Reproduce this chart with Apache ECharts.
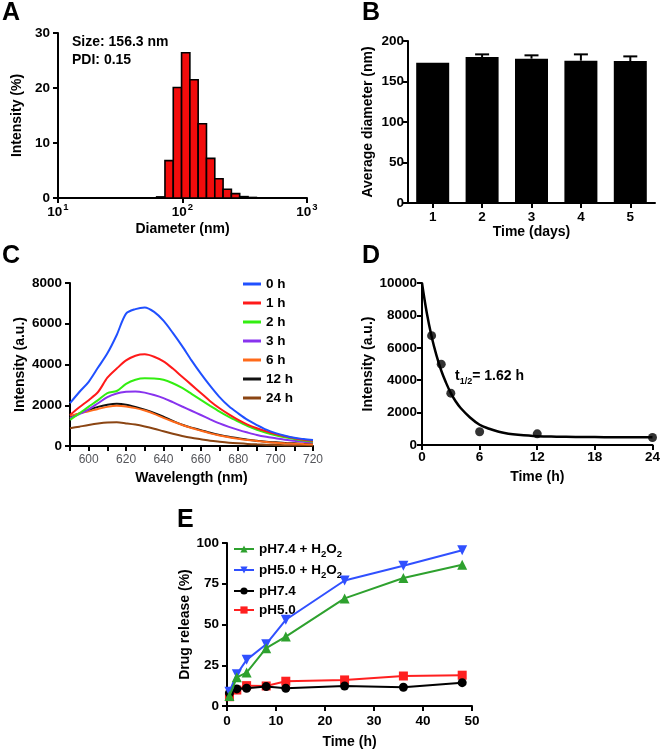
<!DOCTYPE html>
<html><head><meta charset="utf-8">
<script src="https://cdn.jsdelivr.net/npm/echarts@6/dist/echarts.min.js"></script>
<style>html,body{margin:0;padding:0;background:#fff}#c{width:663px;height:753px}</style>
</head><body><div id="c"></div>
<script>
// ---------- Panel A: size distribution (log bins) ----------
const binEdgesNm = [62.0, 72.3, 84.3, 98.3, 114.6, 133.6, 155.8, 181.7, 211.8, 247.0, 288.0, 336.0, 392.0];
const binIntensity = [0.2, 6.8, 20.1, 26.4, 21.5, 13.5, 7.2, 3.5, 1.6, 0.8, 0.25, 0.1];
// ---------- Panel B: stability ----------
const daysCats = ['1', '2', '3', '4', '5'];
const avgDiameter = [173.3, 180.2, 178.2, 175.7, 175.3];
const diameterErr = [0, 3.3, 4.1, 7.8, 5.7];
// ---------- Panel C: emission spectra ----------
const wavelength = [590,595,600,605,610,615,620,625,630,635,640,645,650,655,660,665,670,675,680,685,690,695,700,705,710,715,720];
const spec0h  = [2100,2650,3150,3850,4550,5450,6500,6720,6800,6580,6150,5550,4900,4200,3550,2950,2400,1950,1600,1280,1030,800,630,500,400,340,290];
const spec1h  = [1520,1900,2250,2650,3350,3800,4200,4430,4500,4380,4150,3800,3400,3000,2600,2200,1850,1550,1280,1050,870,720,590,480,380,310,260];
const spec2h  = [1280,1600,1930,2250,2600,2700,3050,3250,3320,3310,3250,3080,2850,2560,2260,1970,1690,1430,1200,980,800,650,530,430,340,270,210];
const spec3h  = [1360,1560,1800,2100,2400,2580,2660,2680,2620,2500,2350,2150,1940,1730,1520,1310,1110,940,790,660,540,450,380,310,260,210,180];
const spec6h  = [1480,1600,1700,1820,1920,1970,1940,1860,1740,1580,1380,1200,1030,880,750,620,520,430,360,300,250,200,160,135,115,95,80];
const spec12h = [1440,1600,1770,1920,2020,2070,2030,1920,1780,1620,1440,1230,1040,900,780,650,540,450,380,310,260,210,180,150,130,110,100];
const spec24h = [870,950,1030,1100,1150,1160,1110,1050,960,850,720,600,490,400,330,260,210,165,130,100,80,65,50,42,36,32,30];
const specNames = ['0 h','1 h','2 h','3 h','6 h','12 h','24 h'];
// ---------- Panel D: decay ----------
const decayT = [1, 2, 3, 6, 12, 24];
const decayI = [6750, 4990, 3200, 820, 690, 460];
const fitT = [0,0.5,1,1.5,2,2.5,3,3.5,4,5,6,7,8,9,10,12,14,16,18,20,22,24];
const fitI = [10000,8150,6700,5550,4600,3850,3200,2700,2300,1700,1250,1000,820,700,630,545,515,500,490,482,478,475];
// ---------- Panel E: drug release ----------
const releaseT = [0.5, 2, 4, 8, 12, 24, 36, 48];
const relPH74H2O2 = [6.1, 17.6, 20.5, 35.5, 42.6, 66.0, 78.5, 86.7];
const relPH50H2O2 = [8.8, 19.5, 28.3, 37.9, 52.9, 77.0, 86.0, 95.5];
const relPH74 = [8.0, 10.5, 10.9, 11.9, 10.9, 12.3, 11.5, 14.3];
const relPH50 = [5.7, 9.8, 12.5, 12.3, 15.2, 16.0, 18.4, 18.9];
const releaseNames = ['pH7.4 + H2O2', 'pH5.0 + H2O2', 'pH7.4', 'pH5.0'];

const FF = '"Liberation Sans", Arial, Helvetica, sans-serif';
const pair = (xs, ys) => xs.map((x, i) => [x, ys[i]]);
const plain = v => String(v);

function ax(o) {
  const margin = o.margin == null ? 8 : o.margin;
  const base = {
    axisLine: {show: true, onZero: false, lineStyle: {color: '#000', width: 2}},
    axisTick: {show: true, length: 5, lineStyle: {color: '#000', width: 2}},
    axisLabel: {color: '#000', fontFamily: FF, fontWeight: 'bold', fontSize: 13.5, margin: margin, formatter: plain},
    splitLine: {show: false},
    nameLocation: 'middle',
    nameTextStyle: {color: '#000', fontFamily: FF, fontWeight: 'bold', fontSize: 14},
  };
  const r = Object.assign(base, o);
  delete r.margin;
  if (o.axisLabel) r.axisLabel = Object.assign(base.axisLabel, o.axisLabel, {margin: margin});
  if (o.axisTick) r.axisTick = Object.assign({show: true, length: 5, lineStyle: {color: '#000', width: 2}}, o.axisTick);
  return r;
}

const chart = echarts.init(document.getElementById('c'), null, {renderer: 'canvas'});
const specColors = ['#2050ff', '#ff1a1a', '#33ee11', '#8833ee', '#ff6a1a', '#111111', '#8b4513'];
const specData = [spec0h, spec1h, spec2h, spec3h, spec6h, spec12h, spec24h];

const series = [];
// A
series.push({
  type: 'custom', xAxisIndex: 0, yAxisIndex: 0,
  data: binIntensity.map((v, i) => [binEdgesNm[i], binEdgesNm[i + 1], v]),
  encode: {x: [0, 1], y: 2},
  renderItem: function (params, api) {
    const p0 = api.coord([api.value(0), api.value(2)]);
    const p1 = api.coord([api.value(1), 0]);
    return {type: 'rect', shape: {x: p0[0], y: p0[1], width: p1[0] - p0[0], height: p1[1] - p0[1]},
      style: {fill: '#f20c0c', stroke: '#000', lineWidth: 1.6}};
  }
});
// B
series.push({type: 'bar', xAxisIndex: 1, yAxisIndex: 1, data: avgDiameter, barWidth: 33,
  itemStyle: {color: '#000'}, z: 2});
series.push({
  type: 'custom', xAxisIndex: 1, yAxisIndex: 1, z: 3,
  data: avgDiameter.map((v, i) => [i, v, v + diameterErr[i]]),
  encode: {x: 0, y: [1, 2]},
  renderItem: function (params, api) {
    if (api.value(2) - api.value(1) <= 0) return;
    const top = api.coord([api.value(0), api.value(2)]);
    const base = api.coord([api.value(0), api.value(1)]);
    const st = {stroke: '#000', lineWidth: 2};
    return {type: 'group', children: [
      {type: 'line', shape: {x1: top[0], y1: base[1], x2: top[0], y2: top[1]}, style: st},
      {type: 'line', shape: {x1: top[0] - 7, y1: top[1], x2: top[0] + 7, y2: top[1]}, style: st}
    ]};
  }
});
// C
specNames.forEach((n, i) => {
  series.push({type: 'line', name: n, xAxisIndex: 2, yAxisIndex: 2, data: pair(wavelength, specData[i]),
    showSymbol: false, smooth: 0.3, color: specColors[i], lineStyle: {width: 2, color: specColors[i]}, z: 10 - i});
});
// D
series.push({type: 'line', xAxisIndex: 3, yAxisIndex: 3, data: pair(fitT, fitI), showSymbol: false, smooth: 0.4,
  lineStyle: {color: '#000', width: 2.5}});
series.push({type: 'scatter', xAxisIndex: 3, yAxisIndex: 3, data: pair(decayT, decayI), symbolSize: 9,
  itemStyle: {color: '#000'}});
// E
const eColors = ['#2ea12e', '#3050ff', '#000000', '#ff2020'];
const eSymbols = ['triangle', 'triangle', 'circle', 'rect'];
const eData = [relPH74H2O2, relPH50H2O2, relPH74, relPH50];
releaseNames.forEach((n, i) => {
  series.push({type: 'line', name: n, xAxisIndex: 4, yAxisIndex: 4, data: pair(releaseT, eData[i]),
    symbol: eSymbols[i], symbolRotate: i === 1 ? 180 : 0, symbolSize: i < 2 ? 10 : 9,
    color: eColors[i], lineStyle: {width: 2, color: eColors[i]}, itemStyle: {color: eColors[i]}, z: 10 - i});
});

const txt = (x, y, text, size, extra) => Object.assign({type: 'text', left: x, top: y,
  style: {text: text, fill: '#000', font: 'bold ' + size + 'px ' + FF}}, extra || {});

chart.setOption({
  animation: false,
  textStyle: {fontFamily: FF},
  grid: [
    {left: 58, top: 33, width: 249, height: 165},
    {left: 408, top: 41, width: 247, height: 162},
    {left: 70, top: 283, width: 243, height: 163},
    {left: 422, top: 283, width: 233, height: 162},
    {left: 227, top: 543, width: 245, height: 163}
  ],
  xAxis: [
    ax({gridIndex: 0, type: 'log', logBase: 10, min: 10, max: 1000, name: 'Diameter (nm)', nameGap: 24,
      minorTick: {show: false}, margin: 5,
      axisLabel: {formatter: v => '{b|10}{sup|' + Math.round(Math.log10(v)) + '}',
        rich: {
          b: {fontFamily: FF, fontWeight: 'bold', fontSize: 13.5, lineHeight: 16, verticalAlign: 'bottom', color: '#000'},
          sup: {fontFamily: FF, fontWeight: 'bold', fontSize: 9.5, lineHeight: 10, padding: [0, 0, 7, 1], verticalAlign: 'bottom', color: '#000'}
        }}}),
    ax({gridIndex: 1, type: 'category', data: daysCats, name: 'Time (days)', nameGap: 20,
      axisTick: {alignWithLabel: true}, margin: 7}),
    ax({gridIndex: 2, type: 'value', min: 590, max: 720, interval: 10, name: 'Wavelength (nm)', nameGap: 25,
      axisLabel: {formatter: v => (v % 20 === 0 ? String(v) : '')}}),
    ax({gridIndex: 3, type: 'value', min: 0, max: 24, interval: 6, name: 'Time (h)', nameGap: 25, margin: 5}),
    ax({gridIndex: 4, type: 'value', min: 0, max: 50, interval: 10, name: 'Time (h)', nameGap: 29})
  ],
  yAxis: [
    ax({gridIndex: 0, type: 'value', min: 0, max: 30, interval: 10, name: 'Intensity (%)', nameGap: 34}),
    ax({gridIndex: 1, type: 'value', min: 0, max: 200, interval: 50, name: 'Average diameter (nm)', nameGap: 33, margin: 4}),
    ax({gridIndex: 2, type: 'value', min: 0, max: 8000, interval: 2000, name: 'Intensity (a.u.)', nameGap: 43}),
    ax({gridIndex: 3, type: 'value', min: 0, max: 10000, interval: 2000, name: 'Intensity (a.u.)', nameGap: 45, margin: 5}),
    ax({gridIndex: 4, type: 'value', min: 0, max: 100, interval: 25, name: 'Drug release (%)', nameGap: 31})
  ],
  legend: [
    {data: specNames, left: 243, top: 276, padding: 0, orient: 'vertical', itemWidth: 18, itemHeight: 3, itemGap: 3,
      icon: 'rect', selectedMode: false,
      textStyle: {fontFamily: FF, fontWeight: 'bold', fontSize: 13.5, lineHeight: 16, color: '#000'}},
    {data: releaseNames, left: 233, top: 541, padding: 0, orient: 'vertical', itemWidth: 20, itemHeight: 9, itemGap: 3,
      selectedMode: false,
      formatter: n => n.replace('H2O2', 'H{sub|2}O{sub|2}'),
      textStyle: {fontFamily: FF, fontWeight: 'bold', fontSize: 13.5, lineHeight: 16, color: '#000',
        rich: {sub: {fontFamily: FF, fontWeight: 'bold', fontSize: 9.5, lineHeight: 10, verticalAlign: 'bottom', padding: [0, 0, -2, 0]}}}}
  ],
  graphic: [
    txt(2, 1, 'A', 25), txt(362, 1, 'B', 25), txt(2, 244, 'C', 25), txt(362, 244, 'D', 25), txt(177, 508, 'E', 25),
    txt(72, 35, 'Size: 156.3 nm', 14), txt(72, 53, 'PDI: 0.15', 14),
    {type: 'text', left: 455, top: 369, style: {text: 't{sub|1/2}= 1.62 h', fill: '#000', font: 'bold 14px ' + FF,
      rich: {sub: {font: 'bold 9px ' + FF, fill: '#000', verticalAlign: 'bottom', lineHeight: 10, padding: [0, 0, -3, 0]}}}}
  ],
  series: series
});
</script></body></html>
